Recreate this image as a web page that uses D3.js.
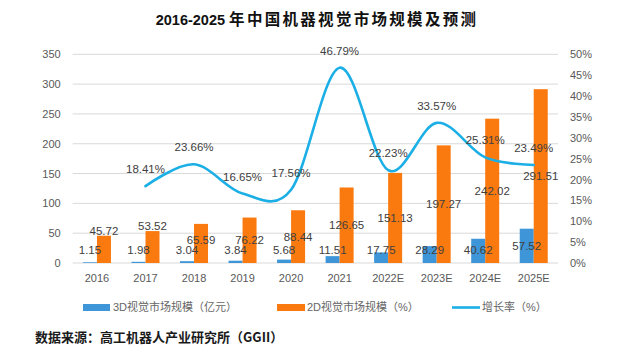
<!DOCTYPE html>
<html><head><meta charset="utf-8">
<script src="https://cdn.jsdelivr.net/npm/d3@7/dist/d3.min.js"></script>
<style>
html,body{margin:0;padding:0;background:#fff;}
svg{display:block;font-family:"Liberation Sans","Noto Sans CJK SC",sans-serif;}
</style></head>
<body><svg id="c" width="640" height="351"></svg>
<script>
const categories = ["2016","2017","2018","2019","2020","2021","2022E","2023E","2024E","2025E"];
const values3D = [1.15,1.98,3.04,3.84,5.68,11.51,17.75,28.29,40.62,57.52];
const values2D = [45.72,53.52,65.59,76.22,88.44,126.65,151.13,197.27,242.02,291.51];
const growth = [null,18.41,23.66,16.65,17.56,46.79,22.23,33.57,25.31,23.49];
const leftTicks = [0,50,100,150,200,250,300,350];
const rightTicks = [0,5,10,15,20,25,30,35,40,45,50];
const seriesNames = ["3D视觉市场规模（亿元）","2D视觉市场规模（%）","增长率（%）"];
const titleNum = "2016-2025 ";
const titleText = "年中国机器视觉市场规模及预测";
const sourceText = "数据来源：高工机器人产业研究所（GGII）";

const C_BLUE = "#3E95D7", C_ORANGE = "#FB7A10", C_LINE = "#1BAFE6";
const svg = d3.select("#c");
const L = 72.7, R = 558, T = 54.3, B = 263;

const x = d3.scaleBand().domain(categories).range([L, R]).padding(0);
const bw = x.bandwidth();
const xs = d3.scaleBand().domain(["3D","2D"]).range([bw/2 - 14, bw/2 + 14]).padding(0);
const yL = d3.scaleLinear().domain([0,350]).range([B, T]);
const yR = d3.scaleLinear().domain([0,50]).range([B, T]);

// title
const tt = svg.append("text").attr("x", 317).attr("y", 25).attr("text-anchor","middle")
  .attr("fill","#111").attr("font-weight","bold");
tt.append("tspan").attr("font-size","14.5px").attr("font-family","Liberation Sans").text(titleNum);
tt.append("tspan").attr("font-size","15.5px").attr("letter-spacing","2.3px")
  .attr("font-family","Noto Sans CJK SC").text(titleText);

// grid
svg.append("g").selectAll("line").data(leftTicks).join("line")
  .attr("x1", L).attr("x2", R).attr("y1", d=>yL(d)).attr("y2", d=>yL(d))
  .attr("stroke", "#D9D9D9").attr("stroke-width", 1);

// left axis labels
const axL = svg.append("g").attr("transform", `translate(${L},0)`)
  .call(d3.axisLeft(yL).tickValues(leftTicks).tickSize(0).tickPadding(12));
axL.select(".domain").remove();
axL.selectAll("text").attr("font-size","11px").attr("fill","#595959").attr("font-family","Liberation Sans");

// right axis labels
const axR = svg.append("g").attr("transform", `translate(${R},0)`)
  .call(d3.axisRight(yR).tickValues(rightTicks).tickSize(0).tickPadding(12).tickFormat(d=>d+"%"));
axR.select(".domain").remove();
axR.selectAll("text").attr("font-size","11px").attr("fill","#595959").attr("font-family","Liberation Sans");

// bottom axis labels
const axB = svg.append("g").attr("transform", `translate(0,${B})`)
  .call(d3.axisBottom(x).tickSize(0).tickPadding(11));
axB.select(".domain").remove();
axB.selectAll("text").attr("font-size","11px").attr("fill","#595959").attr("font-family","Liberation Sans");

// bars
const g = svg.append("g");
g.selectAll(".b3").data(categories).join("rect")
  .attr("x", (d)=>x(d)+xs("3D")).attr("width", xs.bandwidth())
  .attr("y", (d,i)=>yL(values3D[i])).attr("height", (d,i)=>B - yL(values3D[i]))
  .attr("fill", C_BLUE);
g.selectAll(".b2").data(categories).join("rect")
  .attr("x", (d)=>x(d)+xs("2D")).attr("width", xs.bandwidth())
  .attr("y", (d,i)=>yL(values2D[i])).attr("height", (d,i)=>B - yL(values2D[i]))
  .attr("fill", C_ORANGE);

// line
const pts = categories.map((c,i)=>[x(c)+bw/2, growth[i]]).filter(p=>p[1]!=null);
const line = d3.line().x(p=>p[0]).y(p=>yR(p[1])).curve(d3.curveCardinal.tension(0));
svg.append("path").attr("d", line(pts)).attr("fill","none")
  .attr("stroke", C_LINE).attr("stroke-width", 2.6).attr("stroke-linecap","round");

// labels
const lab = svg.append("g").attr("font-size","11.5px").attr("fill","#404040")
  .attr("font-family","Liberation Sans").attr("text-anchor","middle");
lab.selectAll(".l3").data(categories).join("text")
  .attr("x", d=>x(d)+xs("3D")+xs.bandwidth()/2)
  .attr("y", (d,i)=>Math.min((yL(values3D[i])+B)/2, 250))
  .attr("dy","0.35em").text((d,i)=>values3D[i].toFixed(2));
lab.selectAll(".l2").data(categories).join("text")
  .attr("x", d=>x(d)+xs("2D")+xs.bandwidth()/2)
  .attr("y", (d,i)=>{ const top = yL(values2D[i]); const h = B-top;
      return h < 35 ? top - 5 : Math.min((top+B)/2, 240); })
  .attr("dy","0.35em").text((d,i)=>values2D[i].toFixed(2));
lab.selectAll(".lg").data(pts).join("text")
  .attr("x", p=>p[0]).attr("y", p=>yR(p[1]) - 17)
  .attr("dy","0.35em").text(p=>p[1].toFixed(2)+"%");

// legend
const leg = svg.append("g").attr("font-size","11px").attr("fill","#666666")
  .attr("font-family","Liberation Sans, Noto Sans CJK SC");
const ly = 307.5;
leg.append("rect").attr("x",83).attr("y",ly-3.5).attr("width",27).attr("height",7).attr("fill",C_BLUE);
leg.append("text").attr("x",113).attr("y",ly).attr("dy","0.35em").text(seriesNames[0]);
leg.append("rect").attr("x",277).attr("y",ly-3.5).attr("width",28).attr("height",7).attr("fill",C_ORANGE);
leg.append("text").attr("x",307).attr("y",ly).attr("dy","0.35em").text(seriesNames[1]);
leg.append("line").attr("x1",452).attr("x2",480).attr("y1",ly).attr("y2",ly)
  .attr("stroke",C_LINE).attr("stroke-width",2.6);
leg.append("text").attr("x",482).attr("y",ly).attr("dy","0.35em").text(seriesNames[2]);

// source
svg.append("text").attr("x",35).attr("y",337).attr("dy","0.35em")
  .attr("font-size","13px").attr("font-weight","600").attr("fill","#1a1a1a")
  .attr("font-family","Noto Sans CJK SC").text(sourceText);
</script></body></html>
